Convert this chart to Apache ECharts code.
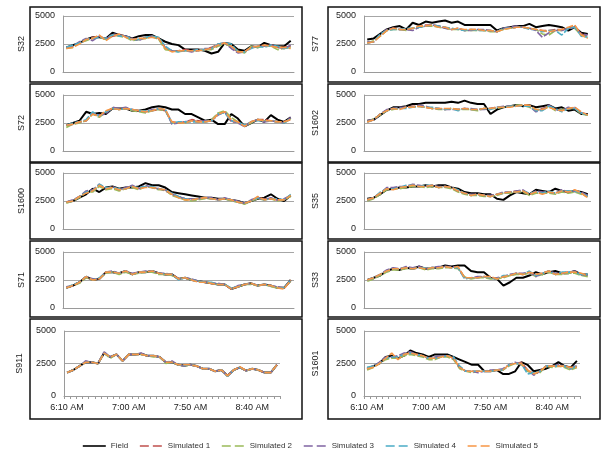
<!DOCTYPE html>
<html><head><meta charset="utf-8">
<script src="https://cdn.jsdelivr.net/npm/echarts@6/dist/echarts.min.js"></script>
<style>html,body{margin:0;padding:0;background:#fff}#c{width:605px;height:454px}</style>
</head><body><div id="c"></div>
<script>
const times = ['6:10 AM','6:15 AM','6:20 AM','6:25 AM','6:30 AM','6:35 AM','6:40 AM','6:45 AM','6:50 AM','6:55 AM',
 '7:00 AM','7:05 AM','7:10 AM','7:15 AM','7:20 AM','7:25 AM','7:30 AM','7:35 AM','7:40 AM','7:45 AM',
 '7:50 AM','7:55 AM','8:00 AM','8:05 AM','8:10 AM','8:15 AM','8:20 AM','8:25 AM','8:30 AM','8:35 AM',
 '8:40 AM','8:45 AM','8:50 AM','8:55 AM','9:00 AM'];
const seriesNames = ['Field','Simulated 1','Simulated 2','Simulated 3','Simulated 4','Simulated 5'];
const stations = ['S32','S77','S72','S1602','S1600','S35','S71','S33','S911','S1601'];
const yTicks = [0, 2500, 5000];

// S32
const s32Field = [2200,2400,2600,2900,3100,3100,3000,3500,3300,3200,3000,3200,3300,3300,3000,2700,2500,2400,2000,2000,2000,1900,1650,1800,2600,2500,2000,1900,2300,2200,2600,2400,2300,2300,2800];
const s32Sim1 = [2200,2300,2600,2900,3100,3100,3000,3200,3300,3200,2900,2900,3100,3100,3000,2100,1900,1900,2000,1900,2000,2000,2200,2500,2600,2200,1800,1800,2200,2300,2300,2400,2200,2200,2300];
const s32Sim2 = [2100,2200,2600,2800,3000,3100,2900,3300,3200,3100,2800,2900,3000,3200,2900,2000,1900,1800,1900,1900,1900,2000,2000,2300,2500,2300,1900,1700,2300,2200,2300,2300,2000,2100,2200];
const s32Sim3 = [2200,2300,2700,3000,2800,3200,2900,3400,3300,3200,3000,2800,3100,3200,3000,2200,1900,1900,1900,1800,1900,2100,2100,2400,2600,2100,1700,1800,2200,2300,2300,2400,2200,2100,2400];
const s32Sim4 = [2200,2400,2600,2900,3000,3100,3000,3300,3200,3200,2900,2900,3100,3200,3100,2300,1900,1800,1900,1900,2000,2000,2100,2500,2600,2500,1800,1800,2100,2300,2200,2400,2300,2100,2200];
const s32Sim5 = [2100,2200,2500,2900,3000,3300,2800,3200,3400,3100,2900,3000,3000,3100,3000,2100,1800,1900,1900,1900,1900,2000,2100,2400,2600,2300,1800,1800,2200,2300,2400,2300,2200,2200,2100];
// S77
const s77Field = [2900,3000,3400,3800,4000,4100,3800,4400,4200,4500,4400,4500,4600,4400,4500,4200,4200,4200,4200,4200,3700,3900,4000,4100,4100,4300,4000,4100,4200,4100,4000,3700,4000,3500,3400];
const s77Sim1 = [2600,2700,3300,3700,3900,3800,3800,3900,4000,4200,4200,4100,4000,3800,3900,3700,3800,3800,3700,3700,3600,3900,3900,4000,4000,3900,3800,3700,3700,3800,3800,3900,4100,3400,3200];
const s77Sim2 = [2600,2800,3200,3700,3800,3800,3700,3900,4000,4100,4100,4000,3900,3800,3800,3700,3700,3700,3700,3600,3600,3800,3900,4000,4000,3900,3800,3400,3300,3700,3700,3900,3900,3300,3100];
const s77Sim3 = [2700,2700,3300,3800,3900,3800,3800,3700,4000,4100,4200,4100,3900,3800,3900,3700,3700,3800,3800,3700,3600,3900,4000,4100,4000,3900,3700,3100,3500,3700,3700,3900,4000,3400,3300];
const s77Sim4 = [2600,2700,3400,3700,3800,3800,3900,3900,4000,4100,4200,4100,4000,3900,3800,3700,3800,3700,3700,3700,3600,3900,3900,4000,4000,3800,3800,3600,3700,3700,3300,3900,4000,3200,3100];
const s77Sim5 = [2600,2700,3200,3700,3900,3800,3800,3900,4100,4100,4200,4000,4000,3800,3900,3800,3800,3800,3700,3700,3600,3800,3900,4000,4000,3900,3800,3700,3600,3700,3800,4000,4200,3300,3000];
// S72
const s72Field = [2300,2500,2700,3500,3300,3400,3300,3800,3800,3800,3600,3600,3700,3900,4000,3900,3700,3700,3300,3300,3000,2700,2800,2400,2400,3300,2900,2200,2500,2800,2600,3200,2800,2600,3000];
const s72Sim1 = [2300,2400,2600,2700,3300,3100,3500,3800,3700,3800,3700,3600,3500,3600,3700,3600,2600,2500,2600,2800,2700,2600,2700,3300,3500,2600,2600,2200,2600,2800,2800,2700,2600,2600,2800];
const s72Sim2 = [2100,2400,2500,2700,3300,3000,3500,3800,3700,3800,3600,3500,3400,3600,3700,3600,2500,2500,2500,2700,2600,2600,2800,3400,3600,3000,2600,2200,2500,2800,2700,2700,2600,2500,2900];
const s72Sim3 = [2300,2400,2600,2700,3400,3200,3300,3900,3800,3900,3700,3600,3500,3700,3800,3700,2400,2500,2600,2700,2600,2700,2700,3200,3500,2700,2500,2200,2600,2800,2600,2700,2600,2500,3000];
const s72Sim4 = [2300,2500,2600,2800,3500,3100,3500,3800,3700,3800,3700,3600,3600,3600,3800,3700,2500,2600,2600,2600,2600,2600,2700,3300,3400,2700,2600,2300,2600,2700,2700,2700,2600,2500,2900];
const s72Sim5 = [2300,2400,2600,2700,3300,3100,3600,3800,3700,3800,3700,3600,3500,3600,3800,3700,2600,2500,2500,2700,2600,2600,2700,3300,3500,2800,2600,2200,2600,2800,2700,2700,2600,2600,2800];
// S1602
const s1602Field = [2700,2800,3200,3600,3900,3900,4000,4200,4200,4300,4300,4300,4300,4400,4300,4500,4300,4200,4200,3300,3700,3900,4000,4100,4000,4100,3900,4000,4100,3800,3900,3600,3700,3300,3300];
const s1602Sim1 = [2600,2800,3300,3600,3800,3800,3900,4000,4000,3900,3800,3800,3700,3800,3700,3800,3700,3700,3800,3800,3900,3900,4000,4000,4100,4000,3600,3800,4000,3700,3600,3800,3900,3400,3200];
const s1602Sim2 = [2600,2900,3200,3600,3700,3800,3900,3900,4000,3900,3800,3700,3700,3800,3700,3700,3700,3600,3800,3800,3800,3900,4000,4100,4100,3900,3700,3700,4000,3600,3700,3800,3800,3300,3200];
const s1602Sim3 = [2700,2800,3300,3700,3800,3900,3900,3900,4100,4000,3800,3800,3700,3700,3700,3800,3800,3700,3700,3800,3900,4000,4000,4000,4100,4000,3500,3700,4100,3700,3600,3900,3800,3400,3300];
const s1602Sim4 = [2600,2800,3300,3600,3800,3800,3800,3900,4000,3900,3900,3800,3700,3800,3600,3800,3700,3700,3800,3700,3900,3900,4000,4000,4000,4000,3600,3600,4000,3800,3500,3800,3800,3400,3200];
const s1602Sim5 = [2600,2800,3300,3600,3800,3700,3900,3900,4000,3900,3800,3800,3800,3800,3700,3800,3700,3700,3800,3800,3900,3900,3900,4000,4100,4100,3700,3700,3900,3700,3600,3800,3900,3500,3200];
// S1600
const s1600Field = [2400,2500,2800,3100,3600,3300,3700,3800,3600,3700,3700,3800,4100,3900,3900,3700,3300,3200,3100,3000,2900,2800,2800,2700,2700,2600,2500,2300,2500,2700,2800,3100,2700,2500,3000];
const s1600Sim1 = [2400,2500,2900,3300,3400,3900,3600,3700,3500,3600,3800,3600,3800,3700,3600,3400,3100,2900,2700,2600,2700,2800,2700,2700,2700,2600,2400,2300,2500,2800,2700,2700,2600,2600,3000];
const s1600Sim2 = [2300,2500,2800,3300,3300,3800,3500,3600,3400,3600,3700,3500,3800,3700,3500,3500,3000,2800,2600,2500,2600,2700,2700,2600,2700,2500,2400,2200,2500,2700,2600,2700,2500,2600,2900];
const s1600Sim3 = [2400,2600,2900,3400,3500,4000,3600,3800,3500,3700,3900,3600,3900,3700,3600,3500,3100,2900,2700,2700,2700,2800,2800,2600,2800,2600,2500,2300,2600,2800,2600,2800,2600,2700,3000];
const s1600Sim4 = [2400,2500,2900,3300,3400,4000,3700,3700,3600,3600,3800,3700,3800,3800,3600,3500,3200,2900,2700,2600,2700,2800,2700,2600,2700,2600,2400,2300,2500,2800,2600,2700,2700,2600,3100];
const s1600Sim5 = [2400,2500,2900,3200,3400,3900,3600,3700,3500,3600,3800,3600,3700,3700,3600,3500,3100,2800,2600,2600,2700,2800,2700,2600,2700,2600,2400,2300,2500,2900,2600,2700,2600,2600,3000];
// S35
const s35Field = [2700,2800,3100,3500,3600,3700,3700,3800,3800,3900,3800,3900,3900,3700,3600,3300,3200,3200,3100,3100,2700,2600,3000,3300,3200,3100,3500,3400,3300,3600,3400,3300,3400,3300,3100];
const s35Sim1 = [2600,2800,3200,3600,3600,3700,3800,3900,3800,3800,3900,3700,3800,3700,3400,3200,3000,3100,3000,2900,3100,3200,3300,3400,3400,3100,3300,3200,3300,3200,3400,3300,3400,3200,2900];
const s35Sim2 = [2500,2700,3100,3500,3600,3600,3700,3800,3800,3700,3800,3700,3700,3600,3300,3100,3000,3000,2900,2900,3000,3200,3200,3300,3300,3000,3200,3200,3200,3100,3300,3200,3300,3100,2900];
const s35Sim3 = [2600,2800,3200,3700,3700,3800,3800,4000,3900,3800,3900,3800,3800,3700,3400,3200,3100,3100,3000,3000,3100,3300,3300,3400,3500,3100,3400,3300,3300,3200,3500,3300,3400,3300,3000];
const s35Sim4 = [2600,2800,3300,3600,3600,3700,3900,3900,3800,3900,3900,3700,3800,3700,3500,3200,3000,3100,3000,2900,3100,3200,3300,3300,3400,3200,3300,3200,3400,3200,3400,3400,3400,3200,2900];
const s35Sim5 = [2600,2800,3200,3600,3500,3700,3800,3900,3800,3800,3900,3700,3800,3700,3400,3200,3000,3100,3000,2900,3100,3200,3300,3300,3400,3100,3300,3100,3300,3200,3400,3300,3500,3200,2800];
// S71
const s71Field = [1800,2000,2300,2800,2500,2600,3200,3200,3100,3300,3000,3200,3200,3300,3100,3000,3000,2600,2700,2500,2400,2300,2200,2100,2100,1700,1900,2100,2200,2000,2100,2000,1800,1800,2500];
const s71Sim1 = [1800,2000,2300,2700,2500,2600,3200,3200,3100,3300,3000,3200,3200,3300,3100,3000,3000,2600,2700,2500,2400,2300,2200,2100,2100,1700,1900,2100,2200,2000,2100,2000,1800,1800,2400];
const s71Sim2 = [1800,2000,2200,2700,2500,2600,3100,3200,3000,3200,3000,3100,3200,3200,3000,3000,2900,2600,2700,2500,2400,2300,2200,2100,2100,1700,1900,2100,2100,2000,2100,1900,1800,1800,2400];
const s71Sim3 = [1900,2000,2300,2800,2600,2600,3200,3300,3100,3300,3100,3200,3300,3300,3100,3100,3000,2600,2700,2600,2400,2300,2200,2200,2100,1700,2000,2100,2200,2000,2100,2000,1900,1800,2500];
const s71Sim4 = [1800,2100,2300,2800,2500,2700,3200,3200,3100,3300,3000,3200,3200,3300,3100,3000,3000,2500,2700,2500,2400,2300,2300,2100,2100,1800,1900,2100,2200,2000,2100,2000,1800,1800,2500];
const s71Sim5 = [1800,2000,2300,2800,2500,2600,3200,3200,3100,3300,3000,3200,3200,3300,3100,3000,3000,2600,2700,2500,2300,2300,2200,2100,2100,1700,1900,2100,2200,2000,2100,2000,1800,1700,2500];
// S33
const s33Field = [2500,2700,2900,3300,3500,3400,3600,3500,3700,3500,3600,3600,3800,3700,3800,3800,3300,3200,3200,2700,2600,2000,2300,2700,2700,2900,3200,3000,3200,3300,3100,3100,3300,3000,3000];
const s33Sim1 = [2500,2700,3000,3300,3500,3500,3600,3500,3600,3500,3600,3600,3700,3600,3600,2700,2700,2700,2800,2700,2600,2800,2900,3100,3000,3200,2900,3100,3300,3000,3100,3200,3200,3000,2900];
const s33Sim2 = [2400,2600,2900,3200,3400,3400,3500,3500,3600,3400,3500,3500,3600,3600,3500,2800,2600,2700,2700,2600,2600,2700,2900,3000,3000,3100,2800,3000,3200,3000,3000,3100,3100,2900,2800];
const s33Sim3 = [2500,2700,3000,3400,3600,3500,3700,3600,3700,3500,3600,3700,3700,3700,3600,2700,2700,2800,2800,2700,2700,2800,3000,3100,3100,3200,2800,3100,3300,3100,3100,3200,3300,3000,2900];
const s33Sim4 = [2500,2700,3000,3300,3500,3500,3600,3500,3600,3600,3600,3600,3700,3600,3600,2600,2700,2700,2800,2700,2600,2900,2900,3100,3000,3300,2900,3100,3300,3000,3200,3200,3200,3000,3000];
const s33Sim5 = [2500,2700,3000,3300,3500,3500,3600,3500,3600,3500,3600,3600,3700,3600,3700,2700,2700,2700,2800,2800,2600,2800,2900,3100,3000,3200,3000,3100,3300,3000,3100,3200,3200,3100,2900];
// S911
const s911Field = [1800,2000,2300,2600,2600,2500,3300,3000,3200,2700,3200,3200,3250,3100,3100,3000,2600,2600,2400,2350,2400,2300,2100,2100,1900,2000,1550,2000,2200,1950,2100,2000,1800,1800,2400];
const s911Sim1 = [1800,2000,2300,2600,2600,2500,3300,3000,3200,2700,3200,3200,3200,3100,3100,3000,2600,2600,2400,2350,2400,2300,2100,2100,1900,2000,1550,2000,2200,1950,2100,2000,1800,1800,2400];
const s911Sim2 = [1800,2000,2300,2600,2600,2500,3300,2900,3200,2700,3200,3200,3200,3100,3000,3000,2500,2600,2400,2300,2400,2300,2100,2100,1900,2000,1550,2000,2200,1950,2100,2000,1800,1800,2400];
const s911Sim3 = [1800,2000,2300,2700,2600,2500,3400,3000,3200,2700,3200,3200,3300,3100,3100,3000,2600,2700,2400,2300,2400,2300,2100,2100,1900,2000,1550,2000,2200,1950,2100,2000,1800,1800,2400];
const s911Sim4 = [1800,2000,2300,2600,2600,2500,3300,3000,3200,2700,3200,3200,3200,3100,3100,3000,2600,2600,2400,2350,2400,2300,2100,2100,1900,2000,1500,2000,2200,1950,2100,2000,1800,1800,2400];
const s911Sim5 = [1800,2000,2300,2600,2600,2500,3300,3000,3200,2700,3200,3200,3200,3100,3100,3000,2600,2600,2400,2400,2400,2300,2100,2100,1900,2000,1550,2000,2250,1950,2100,2000,1800,1800,2400];
// S1601
const s1601Field = [2100,2300,2500,3000,3100,2900,3100,3500,3300,3200,3000,3200,3200,3200,3000,2800,2600,2400,2400,1900,1900,2000,1700,1700,1900,2600,2400,1900,2000,2100,2300,2600,2300,2200,2700];
const s1601Sim1 = [2100,2300,2500,2900,3000,3000,3200,3300,3200,3100,2900,2900,3000,3100,2900,2200,1900,1900,1900,1900,1900,2000,2000,2400,2500,2600,2000,1700,1900,2300,2300,2300,2300,2100,2300];
const s1601Sim2 = [2000,2200,2500,2800,2900,2900,3100,3200,3100,3000,2800,2800,3000,3000,2800,2100,1900,1800,1900,1900,1900,2000,2000,2300,2500,2400,1900,1700,1800,2300,2200,2300,2200,2000,2200];
const s1601Sim3 = [2100,2300,2600,3000,3000,3100,3300,3400,3200,3100,2900,3000,3100,3100,2900,2200,1900,1900,1800,1900,2000,2000,2100,2400,2600,2400,2000,1600,1900,2300,2300,2400,2300,2100,2400];
const s1601Sim4 = [2200,2300,2500,2900,3000,3000,3200,3300,3200,3100,2900,2900,3000,3100,3000,2300,1900,1900,1900,1900,1900,2000,2000,2400,2500,2500,1700,1800,1900,2300,2300,2300,2300,2100,2300];
const s1601Sim5 = [2100,2200,2500,2900,3300,2800,3200,3300,3200,3100,2900,2900,3000,3100,2900,2200,1900,1900,1900,1900,1900,2000,2000,2400,2500,2500,2000,1700,1900,2300,2300,2300,2300,2200,2200];

const stationSeries = {
  S32: [s32Field,s32Sim1,s32Sim2,s32Sim3,s32Sim4,s32Sim5],
  S77: [s77Field,s77Sim1,s77Sim2,s77Sim3,s77Sim4,s77Sim5],
  S72: [s72Field,s72Sim1,s72Sim2,s72Sim3,s72Sim4,s72Sim5],
  S1602: [s1602Field,s1602Sim1,s1602Sim2,s1602Sim3,s1602Sim4,s1602Sim5],
  S1600: [s1600Field,s1600Sim1,s1600Sim2,s1600Sim3,s1600Sim4,s1600Sim5],
  S35: [s35Field,s35Sim1,s35Sim2,s35Sim3,s35Sim4,s35Sim5],
  S71: [s71Field,s71Sim1,s71Sim2,s71Sim3,s71Sim4,s71Sim5],
  S33: [s33Field,s33Sim1,s33Sim2,s33Sim3,s33Sim4,s33Sim5],
  S911: [s911Field,s911Sim1,s911Sim2,s911Sim3,s911Sim4,s911Sim5],
  S1601: [s1601Field,s1601Sim1,s1601Sim2,s1601Sim3,s1601Sim4,s1601Sim5]
};

const colors = ['#000000','#C0504D','#9BBB59','#8064A2','#4BACC6','#F79646'];
const FONT = 'Liberation Sans';
const rowTop = [16, 95, 173, 252, 331];
const rowH = [56, 56, 56, 56, 65];
const boxTop = [7, 84, 163, 241, 319];
const boxBot = [82, 162, 239, 317, 419];

const grids = [], xAxes = [], yAxes = [], series = [], graphics = [];
stations.forEach((st, k) => {
  const row = Math.floor(k / 2), col = k % 2;
  const last = row === 4;
  const left = col === 0 ? (last ? 64 : 63) : 364;
  const width = last ? 216 : (col === 0 ? 231 : 227);
  grids.push({left: left, top: rowTop[row], width: width, height: rowH[row]});
  xAxes.push({
    type: 'category', gridIndex: k, data: times, boundaryGap: true,
    axisLine: {show: true, lineStyle: {color: '#9a9a9a', width: 1}},
    axisTick: {show: last, interval: 0, length: 3, lineStyle: {color: '#9a9a9a'}},
    axisLabel: {show: last, interval: 9, fontSize: 9, fontFamily: FONT, color: '#222', margin: 7}
  });
  yAxes.push({
    type: 'value', gridIndex: k, min: yTicks[0], max: yTicks[yTicks.length - 1], interval: yTicks[1] - yTicks[0],
    name: st, nameLocation: 'middle', nameGap: col === 0 ? (last ? 40 : 37) : 44,
    nameTextStyle: {fontSize: 9, fontFamily: FONT, color: '#222'},
    axisLine: {show: true, lineStyle: {color: '#9a9a9a', width: 1}},
    axisTick: {show: false},
    axisLabel: {fontSize: 9, fontFamily: FONT, color: '#222', margin: 8, formatter: v => String(v)},
    splitLine: {show: true, lineStyle: {color: '#a6a6a6', width: 1}}
  });
  stationSeries[st].forEach((vals, j) => {
    series.push({
      type: 'line', name: seriesNames[j], xAxisIndex: k, yAxisIndex: k,
      data: vals, symbol: 'none', showSymbol: false, animation: false, z: j === 0 ? 2 : 3,
      lineStyle: {color: colors[j], width: j === 0 ? 2 : 1.6, type: j === 0 ? 'solid' : [7, 2]},
      itemStyle: {color: colors[j]}
    });
  });
  const bx = col === 0 ? 30 : 328;
  graphics.push({type: 'rect', silent: true, z: 0,
    shape: {x: bx, y: boxTop[row], width: (col === 0 ? 302 : 600) - bx, height: boxBot[row] - boxTop[row]},
    style: {fill: 'none', stroke: '#111', lineWidth: 1.5}});
});

const legendData = seriesNames.map((n, j) => ({
  name: n,
  lineStyle: {type: j === 0 ? 'solid' : [9, 4], width: j === 0 ? 1.6 : 1.4}
}));

const chart = echarts.init(document.getElementById('c'), null, {renderer: 'canvas'});
chart.setOption({
  animation: false,
  backgroundColor: '#fff',
  grid: grids, xAxis: xAxes, yAxis: yAxes, series: series,
  graphic: graphics,
  legend: {
    show: true, orient: 'horizontal',
    data: legendData, top: 437, left: 77, itemWidth: 23, itemHeight: 10, itemGap: 11,
    itemStyle: {opacity: 0, borderWidth: 0},
    textStyle: {fontSize: 8, fontFamily: FONT, color: '#333'}
  }
});
</script></body></html>
